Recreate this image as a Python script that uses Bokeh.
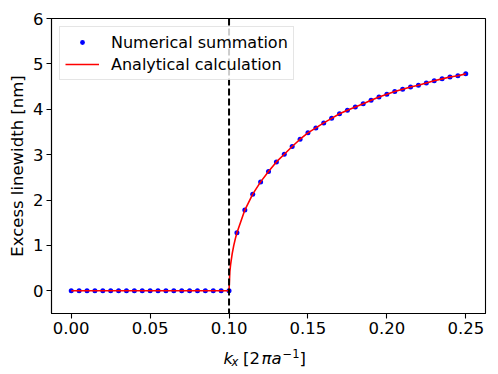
from bokeh.plotting import figure
from bokeh.models import FixedTicker, PrintfTickFormatter, Span, Legend, LegendItem, Range1d
from bokeh.layouts import column
from bokeh.core.properties import value
from bokeh.embed import file_html
from bokeh.resources import INLINE

# ---- data ----
k_points = [round(0.005 * i, 3) for i in range(51)]
flat_vals = [0.0] * 21  # k = 0.000 ... 0.100
rise_vals = [1.28, 1.78, 2.13, 2.40, 2.63, 2.84, 3.01, 3.18, 3.34, 3.48,
             3.59, 3.70, 3.80, 3.90, 3.98, 4.05, 4.12, 4.20, 4.27, 4.33,
             4.39, 4.44, 4.49, 4.53, 4.58, 4.63, 4.67, 4.71, 4.74, 4.78]
num_vals = flat_vals + rise_vals

k_line = [round(0.005 * i, 3) for i in range(21)] + [0.1005, 0.101, 0.102, 0.103, 0.104] + k_points[21:]
line_vals = flat_vals + [0.42, 0.58, 0.82, 1.00, 1.15] + rise_vals

k_threshold = 0.1
x_ticks = [0.0, 0.05, 0.10, 0.15, 0.20, 0.25]
y_ticks = [0, 1, 2, 3, 4, 5, 6]
y_label = "Excess linewidth [nm]"
x_label_parts = ["k", "x", "[2", "πa", "−1", "]"]

FONT = "DejaVu Sans"

p = figure(width=490, height=343, output_backend="svg", toolbar_location=None,
           x_range=Range1d(-0.0125, 0.2625), y_range=Range1d(-0.5, 6))
p.min_border_left = 51
p.min_border_right = 5
p.min_border_top = 18
p.min_border_bottom = 30
p.background_fill_color = "white"
p.border_fill_color = "white"
p.grid.visible = False
p.outline_line_color = "black"
p.outline_line_width = 1.1
p.outline_line_alpha = 1.0

for ax in (p.xaxis[0], p.yaxis[0]):
    ax.axis_line_color = "black"
    ax.axis_line_width = 1.1
    ax.major_tick_line_color = "black"
    ax.major_tick_line_width = 1.1
    ax.major_tick_out = 5
    ax.major_tick_in = 0
    ax.minor_tick_line_color = None
    ax.major_label_text_font = FONT
    ax.major_label_text_font_size = "16.5px"
    ax.major_label_text_color = "black"
    ax.axis_label_text_font = FONT
    ax.axis_label_text_font_size = "16.5px"
    ax.axis_label_text_font_style = "normal"
    ax.axis_label_text_color = "black"

p.xaxis.ticker = FixedTicker(ticks=x_ticks)
p.xaxis.formatter = PrintfTickFormatter(format="%.2f")
p.yaxis.ticker = FixedTicker(ticks=y_ticks)
p.xaxis.major_label_standoff = 3
p.yaxis.major_label_standoff = 3
p.yaxis.axis_label_standoff = 3
p.yaxis.axis_label = y_label

vline = Span(location=k_threshold, dimension="height", line_color="black",
             line_width=2, line_dash="7 3")
p.add_layout(vline)

r_pts = p.scatter(k_points, num_vals, size=5, color="#0000ff", line_color=None)
r_line = p.line(k_line, line_vals, line_color="#ff0000", line_width=1.6)

legend = Legend(items=[LegendItem(label="Numerical summation", renderers=[r_pts]),
                       LegendItem(label="Analytical calculation", renderers=[r_line])],
                location="top_left")
legend.margin = 8
legend.padding = 5
legend.spacing = 2
legend.label_text_font = FONT
legend.label_text_font_size = "16px"
legend.label_text_color = "black"
legend.label_standoff = 12
legend.glyph_width = 34
legend.glyph_height = 12
legend.label_height = 20
legend.border_line_color = "#cccccc"
legend.border_line_width = 1
legend.background_fill_alpha = 0.8
p.add_layout(legend)

# ---- x-axis label strip (mixed italic / sub- / superscript) ----
p2 = figure(width=490, height=28, output_backend="svg", toolbar_location=None,
            x_range=p.x_range, y_range=Range1d(0, 28),
            x_axis_type=None, y_axis_type=None)
p2.min_border_left = 51
p2.min_border_right = 5
p2.min_border_top = 0
p2.min_border_bottom = 0
p2.grid.visible = False
p2.outline_line_color = None
p2.background_fill_color = "white"
p2.border_fill_color = "white"

xc = 0.125
offsets = [-45.0, -37.0, -25.5, -7.0, 14.0, 31.0]
baselines = [13.5, 10.0, 13.5, 13.5, 18.3, 13.5]
sizes = ["16.5px", "11.5px", "16.5px", "16.5px", "11.5px", "16.5px"]
styles = ["italic", "italic", "normal", "italic", "normal", "normal"]
for txt, dx, by, fs, st in zip(x_label_parts, offsets, baselines, sizes, styles):
    p2.text(x=[xc], y=[by], text=[txt], x_offset=dx,
            text_font=value(FONT), text_font_size=value(fs),
            text_font_style=value(st), text_color="black",
            text_align="left", text_baseline="alphabetic")

layout = column(p, p2, spacing=0)
open("out.html", "w").write(file_html(layout, INLINE))
